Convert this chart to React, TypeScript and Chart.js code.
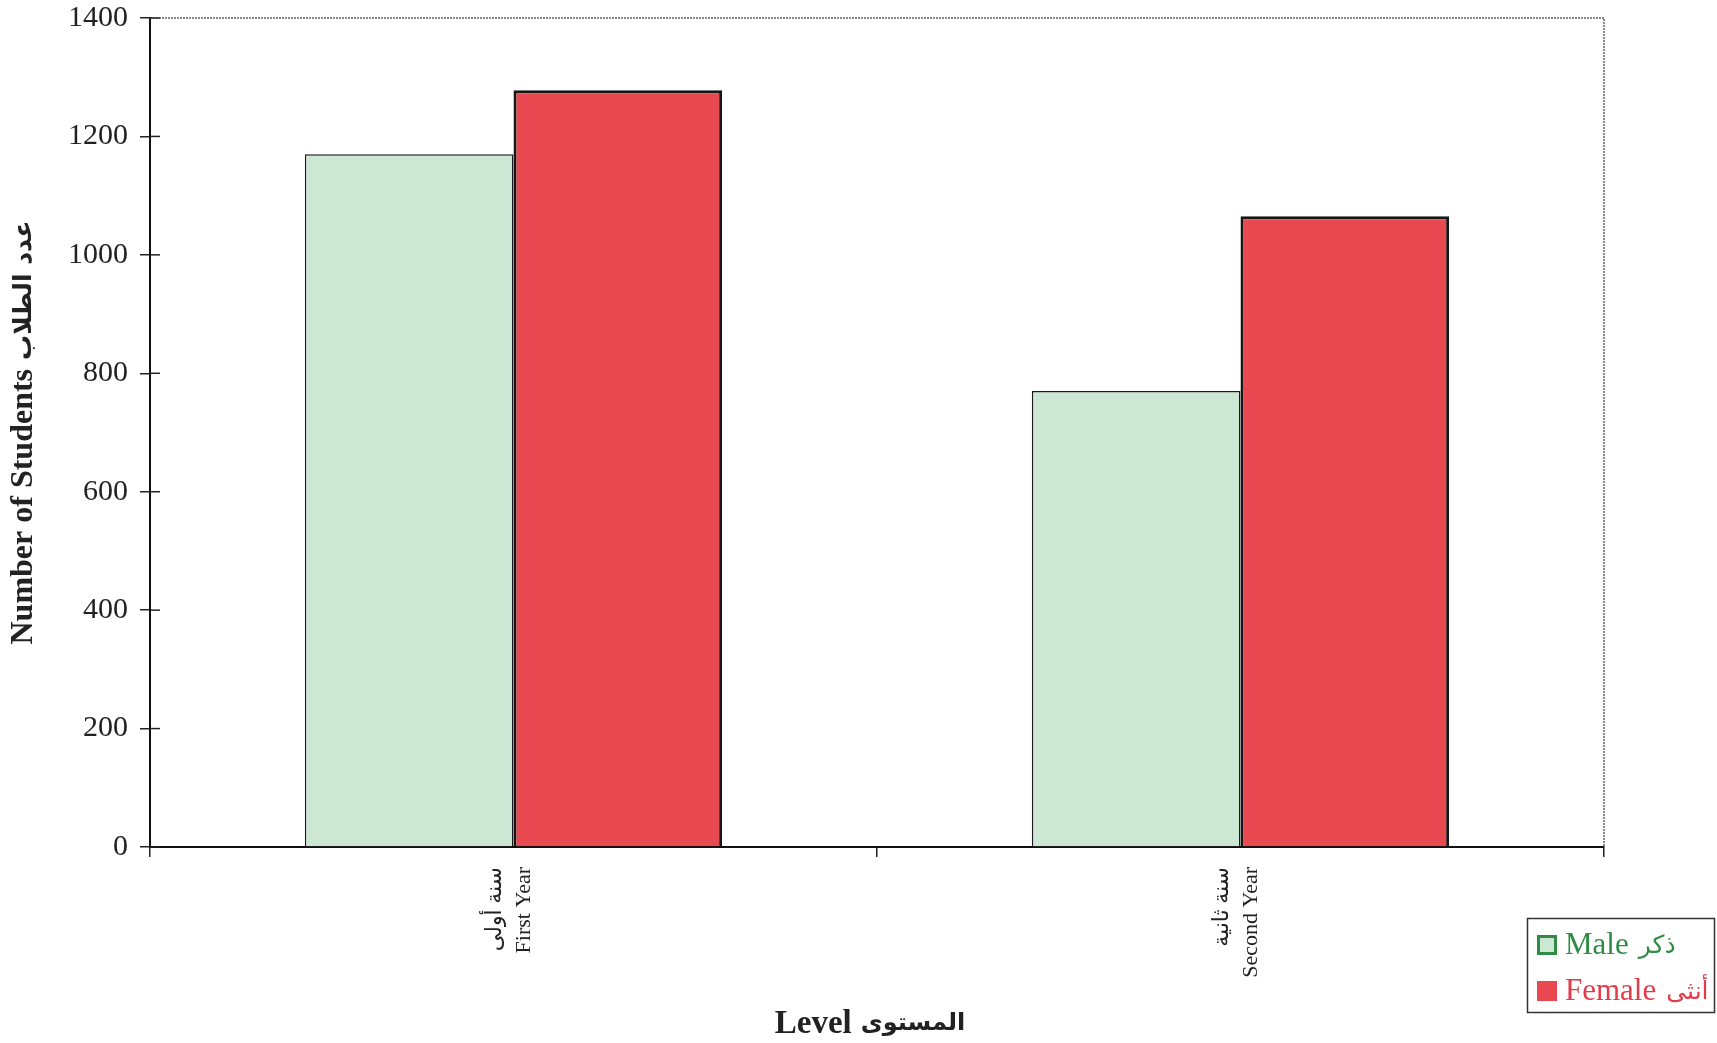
import React, { useEffect, useRef } from "react";
import { Chart, registerables } from "chart.js";
Chart.register(...registerables);

const categories: string[][] = [
  ["سنة أولى", "First Year"],
  ["سنة ثانية", "Second Year"],
];
const seriesEnglish = ["Male", "Female"];
const seriesArabic = ["ذكر", "أنثى"];
const maleValues = [1170, 770];
const femaleValues = [1278, 1065];
const yMin = 0;
const yMax = 1400;
const yStep = 200;
const xTitleParts = ["Level", "المستوى"];
const yTitleParts = ["Number of Students", "عدد الطلاب"];

const FONT = "'Liberation Serif', 'Times New Roman', 'DejaVu Serif', 'DejaVu Sans', serif";
const AR_FONT = "'DejaVu Sans', 'Noto Sans', sans-serif";
const MALE_FILL = "rgb(204,231,212)";
const FEMALE_FILL = "rgb(232,72,80)";
const MALE_TEXT = "rgb(48,140,68)";
const FEMALE_TEXT = "rgb(226,60,74)";

function drawMixed(ctx: any, cx: number, cy: number, en: string, enFont: string, ar: string, arFont: string, gap: number) {
  ctx.font = enFont;
  const w1 = ctx.measureText(en).width;
  ctx.font = arFont;
  const w2 = ctx.measureText(ar).width;
  const total = w1 + gap + w2;
  const x0 = cx - total / 2;
  ctx.textAlign = "left";
  ctx.textBaseline = "middle";
  ctx.font = enFont;
  ctx.fillText(en, x0, cy);
  ctx.font = arFont;
  ctx.fillText(ar, x0 + w1 + gap, cy);
}

const framePlugin = {
  id: "frameAndLegend",
  beforeDatasetsDraw(chart: any) {
    const { ctx, chartArea } = chart;
    ctx.save();
    ctx.strokeStyle = "#8a8a8a";
    ctx.lineWidth = 2;
    ctx.setLineDash([2, 1]);
    ctx.beginPath();
    ctx.moveTo(chartArea.left, chartArea.top);
    ctx.lineTo(chartArea.right, chartArea.top);
    ctx.lineTo(chartArea.right, chartArea.bottom);
    ctx.stroke();
    ctx.restore();
  },
  afterDraw(chart: any) {
    const { ctx, chartArea } = chart;
    const ys = chart.scales.y;
    ctx.save();
    ctx.strokeStyle = "#222";
    ctx.lineWidth = 1.5;
    ys.ticks.forEach((t: any) => {
      const py = ys.getPixelForValue(t.value);
      ctx.beginPath();
      ctx.moveTo(chartArea.left, py);
      ctx.lineTo(chartArea.left + 10, py);
      ctx.stroke();
    });

    // axis titles
    ctx.fillStyle = "#222";
    const midX = (chartArea.left + chartArea.right) / 2 - 7;
    drawMixed(ctx, midX, chart.height - 19, xTitleParts[0], `bold 33px ${FONT}`, xTitleParts[1], `bold 24px ${AR_FONT}`, 9);
    ctx.save();
    ctx.translate(24, (chartArea.top + chartArea.bottom) / 2);
    ctx.rotate(-Math.PI / 2);
    drawMixed(ctx, 0, 0, yTitleParts[0], `bold 32px ${FONT}`, yTitleParts[1], `bold 25px ${AR_FONT}`, 9);
    ctx.restore();

    // legend
    const bx = chart.width - 190;
    const by = chart.height - 125;
    ctx.lineWidth = 1.5;
    ctx.strokeStyle = "#333";
    ctx.strokeRect(bx + 0.5, by + 0.5, 187, 94);
    const rows = chart.data.datasets;
    const textColors = [MALE_TEXT, FEMALE_TEXT];
    rows.forEach((ds: any, i: number) => {
      const cy = by + 27 + i * 46;
      const sx = bx + 10;
      ctx.fillStyle = ds.backgroundColor;
      ctx.fillRect(sx, cy - 10, 20, 20);
      if (i === 0) {
        ctx.strokeStyle = MALE_TEXT;
        ctx.lineWidth = 3;
        ctx.strokeRect(sx + 1.5, cy - 8.5, 17, 17);
      }
      ctx.fillStyle = textColors[i];
      ctx.textBaseline = "middle";
      ctx.textAlign = "left";
      ctx.font = `31px ${FONT}`;
      ctx.fillText(seriesEnglish[i], sx + 28, cy + 1);
      const w = ctx.measureText(seriesEnglish[i]).width;
      ctx.font = `25px ${AR_FONT}`;
      ctx.fillText(seriesArabic[i], sx + 28 + w + 10, cy + 1);
    });
    ctx.restore();
  },
};

export default function App() {
  const canvasRef = useRef<HTMLCanvasElement | null>(null);

  useEffect(() => {
    if (!canvasRef.current) return;
    const chart = new Chart(canvasRef.current, {
      type: "bar",
      data: {
        labels: categories,
        datasets: [
          {
            label: `${seriesEnglish[0]} ${seriesArabic[0]}`,
            data: maleValues,
            backgroundColor: MALE_FILL,
            borderColor: "#1a1a1a",
            borderWidth: 1.5,
            barPercentage: 1,
            categoryPercentage: 0.574,
          },
          {
            label: `${seriesEnglish[1]} ${seriesArabic[1]}`,
            data: femaleValues,
            backgroundColor: FEMALE_FILL,
            borderColor: "#161616",
            borderWidth: 3,
            barPercentage: 1,
            categoryPercentage: 0.574,
          },
        ],
      },
      options: {
        responsive: true,
        maintainAspectRatio: false,
        animation: false,
        layout: { padding: { left: 0, top: 18, right: 113, bottom: 0 } },
        plugins: {
          legend: { display: false },
          tooltip: { enabled: false },
        },
        scales: {
          x: {
            grid: {
              display: true,
              drawOnChartArea: false,
              offset: true,
              tickLength: 10,
              color: "#222",
              lineWidth: 1.5,
            },
            border: { display: true, color: "#111", width: 2 },
            ticks: {
              autoSkip: false,
              minRotation: 90,
              maxRotation: 90,
              padding: 10,
              labelOffset: -18,
              color: "#222",
              font: { family: FONT, size: 22, lineHeight: 1.3 },
            },
            title: { display: false },
            afterFit: (s: any) => {
              s.height = 196;
              s.paddingLeft = 0;
              s.paddingRight = 0;
            },
          },
          y: {
            min: yMin,
            max: yMax,
            grid: {
              display: true,
              drawOnChartArea: false,
              tickLength: 10,
              color: "#222",
              lineWidth: 1.5,
            },
            border: { display: true, color: "#111", width: 2 },
            ticks: {
              stepSize: yStep,
              padding: 12,
              color: "#222",
              font: { family: FONT, size: 30 },
              callback: (v: any) => String(v),
            },
            title: { display: false },
            afterFit: (s: any) => {
              s.width = 150;
              s.paddingTop = 0;
              s.paddingBottom = 0;
            },
          },
        },
      } as any,
      plugins: [framePlugin],
    });
    return () => chart.destroy();
  }, []);

  return (
    <div style={{ position: "fixed", left: 0, top: 0, width: 1717, height: 1043, background: "#fff" }}>
      <canvas ref={canvasRef} />
    </div>
  );
}
